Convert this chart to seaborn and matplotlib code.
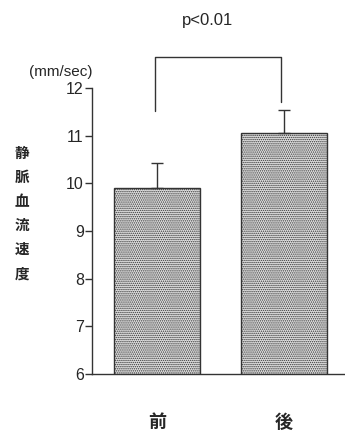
import matplotlib
matplotlib.use("Agg")
import matplotlib.pyplot as plt
import seaborn as sns
import pandas as pd

# Venous blood flow velocity before / after
categories = ["前", "後"]
means = [9.9, 11.05]
errors_up = [0.52, 0.48]
y_ticks = [6, 7, 8, 9, 10, 11, 12]
p_text = "p<0.01"
unit_text = "(mm/sec)"
ylabel_text = "静脈血流速度"

sns.set_theme(style="ticks")
plt.rcParams["font.family"] = ["Liberation Sans", "Noto Sans CJK JP", "DejaVu Sans"]
plt.rcParams["hatch.color"] = "#8c8c8c"
plt.rcParams["hatch.linewidth"] = 0.7

df = pd.DataFrame({"when": categories, "speed": means})

fig = plt.figure(figsize=(3.45, 4.33), dpi=100)
ax = fig.add_axes([0.267, 0.1363, 0.733, 0.6605])

sns.barplot(data=df, x="when", y="speed", ax=ax, width=0.68,
            color="#e2e2e2", edgecolor="#333333", linewidth=1.0,
            errorbar=None, saturation=1)
for patch in ax.patches:
    patch.set_hatch("........")
    patch.set_facecolor("#e2e2e2")

# Upper-only error bars
ax.errorbar([0, 1], means, yerr=[[0, 0], errors_up], fmt="none",
            ecolor="#333333", elinewidth=1.0, capsize=4.5, capthick=1.0)

ax.set_ylim(6, 12)
ax.set_xlim(-0.514, 1.486)
ax.set_yticks(y_ticks)
ax.set_yticklabels([str(t) for t in y_ticks], fontsize=11.5)
ax.tick_params(axis="y", direction="out", length=5, width=1.0, color="#333333", pad=1)
ax.tick_params(axis="x", length=0, pad=28)
ax.set_xticklabels(categories, fontsize=13, fontweight="bold",
                   family=["Noto Sans CJK JP"])
ax.set_xlabel("")
ax.set_ylabel("")
for side in ["top", "right"]:
    ax.spines[side].set_visible(False)
ax.spines["left"].set_color("#333333")
ax.spines["bottom"].set_color("#333333")
ax.spines["left"].set_linewidth(1.0)
ax.spines["bottom"].set_linewidth(1.0)

# Significance bracket
ax.plot([-0.02, -0.02, 0.98, 0.98], [11.52, 12.65, 12.65, 11.70],
        color="#333333", lw=1.0, clip_on=False)
ax.text(0.40, 13.42, p_text, ha="center", va="center", fontsize=12)

fig.text(0.267, 0.834, unit_text, ha="right", va="center", fontsize=11)
fig.text(0.064, 0.508, "\n".join(ylabel_text), ha="center", va="center",
         fontsize=10.5, fontweight="bold", linespacing=1.62,
         family=["Noto Sans CJK JP"])

fig.savefig("out.png", dpi=100)
